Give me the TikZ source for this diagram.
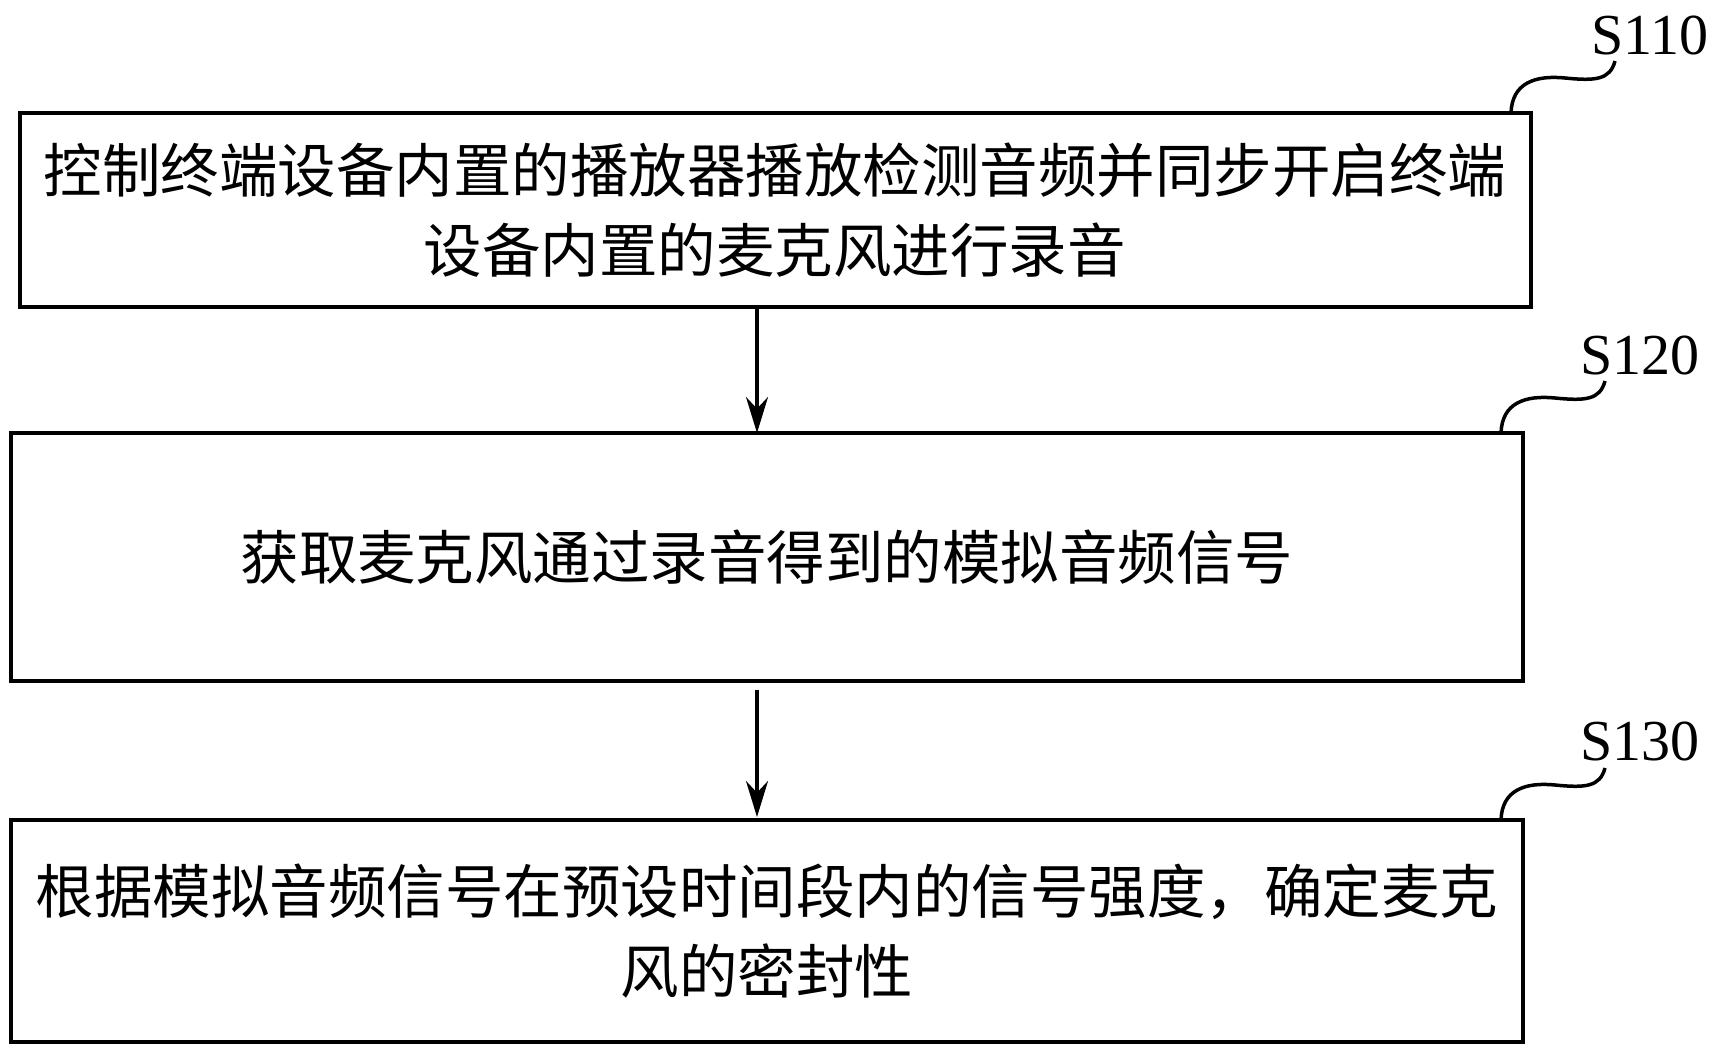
\documentclass[tikz,border=0pt]{standalone}
\usepackage{fontspec}
\usetikzlibrary{arrows.meta}
\setmainfont{Liberation Serif}
\newfontfamily\cjk{Noto Sans CJK SC}
\begin{document}
\begin{tikzpicture}[x=1pt,y=-1pt,
 box/.style={draw,line width=3.5pt},
 txt/.style={font=\cjk\fontsize{58.5}{80}\selectfont,align=center,text width=1500pt},
 lab/.style={font=\fontsize{58}{58}\selectfont},
 arr/.style={line width=3.5pt,-{Stealth[length=36pt,width=22pt]}}]
\useasboundingbox (0,0) rectangle (1711,1051);
\draw[box] (20,113) rectangle (1531,307);
\draw[box] (11,433) rectangle (1523,681);
\draw[box] (11,820) rectangle (1523,1042);
\node[txt] (t1) at (775,210) {控制终端设备内置的播放器播放检测音频并同步开启终端\\设备内置的麦克风进行录音};
\node[txt] (t2) at (767,557) {获取麦克风通过录音得到的模拟音频信号};
\node[txt] (t3) at (767,931) {根据模拟音频信号在预设时间段内的信号强度，确定麦克\\风的密封性};
\coordinate (b1) at (757,307); \coordinate (a2) at (757,433);
\coordinate (b2) at (757,690); \coordinate (a3) at (757,817);
\draw[arr] (b1) -- (a2);
\draw[arr] (b2) -- (a3);
\node[lab] (s1) at (1650,35) {S110};
\node[lab] (s2) at (1640,355) {S120};
\node[lab] (s3) at (1640,741) {S130};
\foreach \y/\d in {113/0,433/-10,820/-10}{
\draw[line width=3.5pt] (1511+\d,\y) .. controls (1512+\d,\y-30) and (1535+\d,\y-38) .. (1565+\d,\y-35)
 .. controls (1595+\d,\y-32) and (1610+\d,\y-33) .. (1615+\d,\y-52);}
\end{tikzpicture}
\end{document}
